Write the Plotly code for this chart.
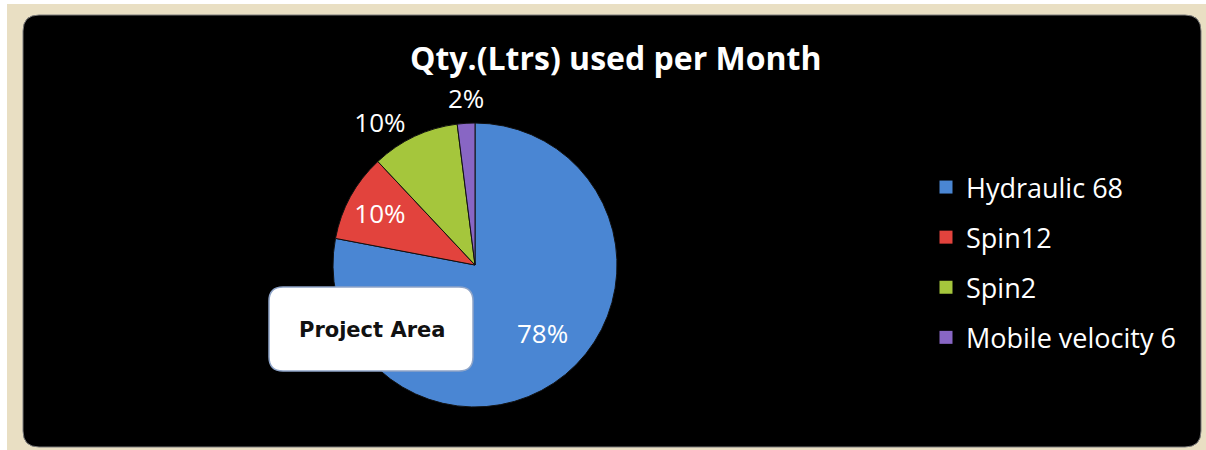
import math
import plotly.graph_objects as go

# ---- data ----
labels = ["Hydraulic 68", "Spin12", "Spin2", "Mobile velocity 6"]
values = [78, 10, 10, 2]
colors = ["#4a86d3", "#e2433d", "#a5c63c", "#8866c4"]
text_pos = ["none", "inside", "outside", "none"]
title_text = "Qty.(Ltrs) used per Month"
callout_text = "Project Area"

W, H = 1206, 450

def px(x):
    return x / W

def py(y):
    return 1 - y / H

def rounded_path(x0, y0, x1, y1, r):
    pts = [
        f"M {px(x0 + r)},{py(y0)}",
        f"L {px(x1 - r)},{py(y0)}",
        f"Q {px(x1)},{py(y0)} {px(x1)},{py(y0 + r)}",
        f"L {px(x1)},{py(y1 - r)}",
        f"Q {px(x1)},{py(y1)} {px(x1 - r)},{py(y1)}",
        f"L {px(x0 + r)},{py(y1)}",
        f"Q {px(x0)},{py(y1)} {px(x0)},{py(y1 - r)}",
        f"L {px(x0)},{py(y0 + r)}",
        f"Q {px(x0)},{py(y0)} {px(x0 + r)},{py(y0)}",
        "Z",
    ]
    return " ".join(pts)

fig = go.Figure()

cx, cy, rad = 475, 265, 142
label_font = dict(family="Open Sans", size=26, color="white")
fig.add_trace(go.Pie(
    labels=labels,
    values=values,
    sort=False,
    direction="clockwise",
    rotation=0,
    marker=dict(colors=colors, line=dict(color="#111111", width=1)),
    texttemplate="%{percent:.0%}",
    textposition=text_pos,
    textfont=label_font,
    insidetextorientation="horizontal",
    showlegend=False,
    domain=dict(x=[px(cx - rad), px(cx + rad)], y=[py(cy + rad), py(cy - rad)]),
    hoverinfo="label+percent",
))

# labels for slices whose text is "none": placed along the slice's mid-angle
total = sum(values)
annotations = []
cum = 0
for i, (v, tp) in enumerate(zip(values, text_pos)):
    mid = 2 * math.pi * (cum + v / 2) / total  # clockwise from 12 o'clock
    cum += v
    if tp != "none":
        continue
    outside = v / total < 0.05
    r = rad * (1.04 if outside else 0.68)
    lx = cx + r * math.sin(mid)
    ly = cy - r * math.cos(mid)
    annotations.append(dict(
        text=f"{round(100 * v / total)}%", xref="paper", yref="paper",
        x=px(lx), y=py(ly), showarrow=False, font=label_font,
        xanchor="center", yanchor="bottom" if outside else "middle",
        xshift=0 if outside else 6, yshift=0 if outside else 6,
    ))

# legend entries (dummy traces so the spacing can match)
for lab, col in zip(labels, colors):
    fig.add_trace(go.Scatter(
        x=[None], y=[None], mode="markers", name=lab,
        marker=dict(symbol="square", size=13, color=col),
        legendgroup=lab, showlegend=True,
    ))

fig.update_xaxes(visible=False)
fig.update_yaxes(visible=False)

shapes = [
    dict(type="rect", xref="paper", yref="paper", x0=px(7), x1=px(1206), y0=py(450), y1=py(4),
         fillcolor="#e9dfc3", line=dict(width=0), layer="below"),
    dict(type="path", xref="paper", yref="paper", path=rounded_path(23, 15, 1201, 447, 16),
         fillcolor="#000000", line=dict(color="#7a7a7a", width=1), layer="below"),
    dict(type="path", xref="paper", yref="paper", path=rounded_path(269, 287, 473, 371, 14),
         fillcolor="#ffffff", line=dict(color="#8ea4c8", width=1.5), layer="above"),
]

annotations += [
    dict(text=f"<b>{title_text}</b>", xref="paper", yref="paper", x=px(615), y=py(57),
         showarrow=False, font=dict(family="Open Sans", size=32, color="white"),
         xanchor="center", yanchor="middle"),
    dict(text=f"<b>{callout_text}</b>", xref="paper", yref="paper", x=px(372), y=py(330),
         showarrow=False, font=dict(family="DejaVu Sans", size=21, color="#111111"),
         xanchor="center", yanchor="middle"),
]

fig.update_layout(
    width=W, height=H,
    margin=dict(l=0, r=0, t=0, b=0),
    paper_bgcolor="white",
    plot_bgcolor="rgba(0,0,0,0)",
    shapes=shapes,
    annotations=annotations,
    legend=dict(
        x=px(926), y=py(163), xanchor="left", yanchor="top",
        font=dict(family="Open Sans", size=27, color="white"),
        bgcolor="rgba(0,0,0,0)", tracegroupgap=12,
        itemwidth=30,
    ),
)

fig.write_html("out.html", config={"displayModeBar": False},
               post_script="document.body.style.margin='0';")
